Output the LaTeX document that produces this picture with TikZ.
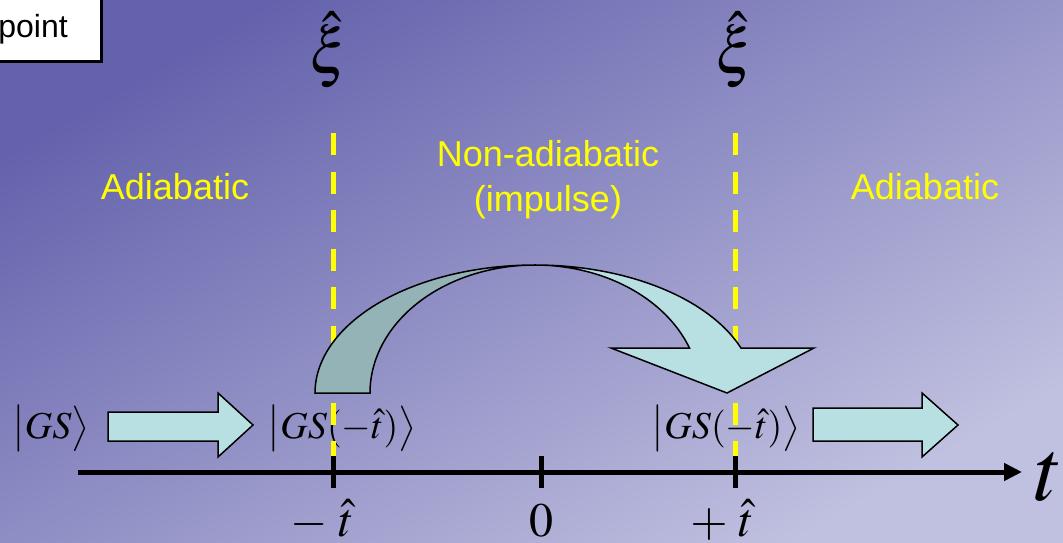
\documentclass[tikz,border=0pt]{standalone}
\usepackage{mathptmx}
\usepackage[no-math]{fontspec}
\newfontfamily\arialfont{Liberation Sans}
\usetikzlibrary{arrows.meta, positioning}

\definecolor{bgA}{RGB}{100,98,172}
\definecolor{bgB}{RGB}{192,192,224}
\definecolor{arrowfill}{RGB}{184,224,227}
\definecolor{arrowback}{RGB}{147,179,182}
\definecolor{hiyellow}{RGB}{255,255,0}

\begin{document}
\begin{tikzpicture}[x=1pt, y=-1pt,
    region/.style={text=hiyellow, font=\arialfont\fontsize{36}{45}\selectfont, align=center, inner sep=0pt},
    ket/.style={font=\fontsize{38}{46}\selectfont, inner sep=0pt, anchor=base},
    ticklabel/.style={font=\fontsize{48}{56}\selectfont, inner sep=0pt, anchor=base},
    xilabel/.style={font=\fontsize{64}{70}\selectfont, inner sep=0pt, anchor=base},
    border/.style={hiyellow, line width=5pt, dash pattern=on 22pt off 16.5pt},
    blockarrow/.style={draw=black, line width=1.5pt, fill=arrowfill, line join=miter},
    tick/.style={line width=5pt}]

    % background
    \shade[top color=bgA, bottom color=bgB, shading angle=30] (0,0) rectangle (1063,543);
    \useasboundingbox (0,0) rectangle (1063,543);

    % title box (cut off)
    \filldraw[fill=white, draw=black, line width=3pt] (-10,-10) rectangle (101.5,61.5);
    \node[font=\arialfont\fontsize{32}{38}\selectfont, inner sep=0pt, anchor=base east] (title) at (68,38) {point};

    % critical points
    \node[xilabel] (xiL) at (329,74) {$\hat{\xi}$};
    \node[xilabel] (xiR) at (735,74) {$\hat{\xi}$};

    % regions
    \node[region] (regL) at (175,187) {Adiabatic};
    \node[region] (regM) at (548,180) {Non-adiabatic\\(impulse)};
    \node[region] (regR) at (925,187) {Adiabatic};

    % states
    \node[ket] (ketA) at (51,438) {$\bigl|GS\bigr\rangle$};
    \node[ket] (ketB) at (342,438) {$\bigl|GS(-\hat{t})\bigr\rangle$};
    \node[ket] (ketC) at (726,438) {$\bigl|GS(-\hat{t})\bigr\rangle$};

    % boundaries
    \coordinate (bL0) at (333,133);
    \coordinate (bL1) at (333,470);
    \coordinate (bR0) at (735,133);
    \coordinate (bR1) at (735,470);
    \draw[border] (bL0) -- (bL1);
    \draw[border] (bR0) -- (bR1);

    % straight block arrows
    \draw[blockarrow] (108,412) -- (218,412) -- (218,393) -- (253,425) -- (218,457) -- (218,441) -- (108,441) -- cycle;
    \draw[blockarrow] (813,408) -- (922,408) -- (922,393) -- (958,425) -- (922,457) -- (922,441) -- (813,441) -- cycle;

    % curved block arrow
    \draw[blockarrow, fill=arrowback] plot[domain=180:90, samples=60] ({535+220*cos(\x)},{393-128*sin(\x)})
        -- plot[domain=90:180, samples=60] ({535+165*cos(\x)},{393-128*sin(\x)}) -- cycle;
    \draw[blockarrow] plot[domain=90:20.58, samples=60] ({535+220*cos(\x)},{393-128*sin(\x)})
        -- (814,348) -- (727,393) -- (611,348)
        -- plot[domain=20.58:90, samples=60] ({535+165*cos(\x)},{393-128*sin(\x)}) -- cycle;

    % time axis
    \coordinate (ax0) at (78,472);
    \coordinate (ax1) at (1022,472);
    \draw[line width=5pt, -{Triangle[length=18pt, width=17pt]}] (ax0) -- (ax1);
    \foreach \tx in {333,541,735}
        \draw[tick] (\tx,456) -- (\tx,488);
    \node[font=\fontsize{88}{96}\selectfont, inner sep=0pt, anchor=base] (tlab) at (1049,500) {$t$};

    \node[ticklabel] (tm) at (322,536) {$-\;\hat{t}$};
    \node[ticklabel] (tz) at (541,536) {$0$};
    \node[ticklabel] (tp) at (722,536) {$+\;\hat{t}$};
\end{tikzpicture}
\end{document}
